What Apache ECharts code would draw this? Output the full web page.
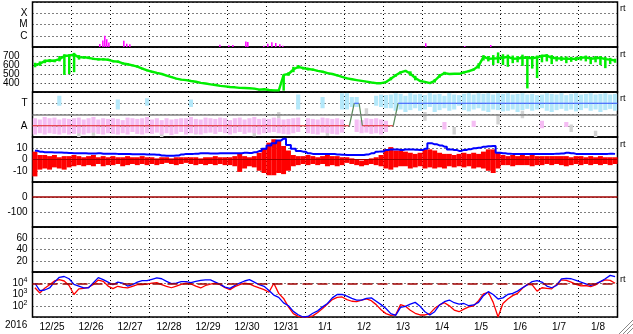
<!DOCTYPE html>
<html><head><meta charset="utf-8">
<script src="https://cdn.jsdelivr.net/npm/echarts@6/dist/echarts.min.js"></script>
<style>html,body{margin:0;padding:0;background:#fff}#c{width:633px;height:334px}</style>
</head><body><div id="c"></div>
<script>
// ---------- DATA (3-hour slots, 120 per series, starting 12/25 00:00) ----------
const dayLabels = ['12/25','12/26','12/27','12/28','12/29','12/30','12/31','1/1','1/2','1/3','1/4','1/5','1/6','1/7','1/8'];
const yearLabel = '2016';

// X-ray flux (log10 W/m2), bursts only
const xrayHours = [41.4,43.3,44.5,45.7,47.0,56.2,58.0,59.9,115.3,120.8,123.3,131.3,132.5,142.3,144.8,147.3,149.7,152.2,154.0,242,266,282];
const xrayLog   = [-6.73,-6.43,-6.0,-6.3,-6.6,-6.45,-6.7,-6.75,-6.8,-6.85,-6.82,-6.5,-6.55,-6.9,-6.7,-6.57,-6.65,-6.75,-6.88,-6.66,-6.93,-6.82];

// Solar wind speed (km/s): main value, and low / high extremes per slot
const speed = [600,615,645,650,648,665,700,705, 715,685,685,680,668,662,662,658, 642,638,618,608,595,582,560,540,
  525,512,500,482,465,448,438,432, 422,414,402,394,385,378,368,362, 355,352,346,344,342,338,326,330,
  322,318,318,490,500,550,580,565, 555,548,535,525,510,500,485,468, 452,442,432,424,415,406,398,398,
  410,448,485,518,535,505,455,422, 412,398,425,480,510,500,502,502, 518,532,550,590,690,670,672,675,
  680,690,670,672,680,680,675,685, 700,705,680,675,672,670,668,670, 680,685,670,675,680,665,660,650];
const speedLo = [575,590,620,630,630,640,490,500, 520,660,670,665,655,650,650,645, 630,625,605,595,585,570,550,530,
  515,505,490,475,455,440,430,425, 415,408,395,388,378,372,362,355, 348,345,340,338,335,330,318,322,
  315,310,310,315,480,520,560,550, 540,535,525,515,500,490,475,460, 445,435,425,418,410,400,392,390,
  400,430,470,505,525,480,430,415, 405,392,405,460,495,490,495,495, 505,520,540,560,650,640,600,620,
  600,580,620,630,590,340,560,455, 630,640,610,640,645,620,635,645, 650,640,610,630,600,565,610,625];
const speedHi = [625,640,660,665,660,700,720,720, 735,710,700,695,680,675,675,670, 655,650,630,620,605,595,570,550,
  535,520,510,490,475,455,445,440, 430,420,410,400,392,385,375,368, 362,358,352,350,348,345,335,338,
  330,325,325,495,520,580,600,580, 570,560,545,535,520,510,495,475, 460,450,440,430,420,412,405,405,
  420,465,500,530,545,530,480,430, 418,405,445,500,525,510,510,510, 530,545,560,620,710,700,710,740,
  720,715,705,700,715,700,700,705, 715,720,710,695,695,695,690,690, 700,705,690,700,700,690,680,670];

// IMF angle (deg) scatter ranges
const phiPinkLo = [20,30,20,30,25,20,30,20, 25,30,20,30,35,25,20,30, 25,20,30,20,40,25,20,30, 25,35,20,30,15,25,40,20,
  30,25,20,30,35,25,40,30, 20,30,40,25,35,30,20,30, 35,40,30,25,20,30,40,null, 30,25,20,35,30,25,20,35,
  null,null,40,30,35,25,30,20, 40,null,null,null,null,null,null,null, null,null,null,null,60,null,null,null,
  null,null,80,null,null,null,null,null, null,null,null,null,null,null,null,null, 70,null,null,null,null,80,null,null,
  null,null,null,null,null,null,null,null];
const phiPinkHi = [150,140,160,150,155,140,150,145, 150,155,140,150,160,140,150,145, 150,145,135,155,150,145,150,160, 140,150,135,150,140,145,150,150,
  160,145,140,155,150,145,155,150, 135,150,155,140,150,160,145,150, 145,155,150,140,145,150,155,null, 150,145,140,155,150,145,150,140,
  null,null,140,135,150,145,150,140, 130,null,null,null,null,null,null,null, null,null,null,null,120,null,null,null,
  null,null,130,null,null,null,null,null, null,null,null,null,null,null,null,null, 130,null,null,null,null,120,null,null,
  null,null,null,null,null,null,null,null];
const phiBlueLo = [null,null,null,null,null,250,null,null, null,null,null,null,null,null,null,null, null,220,null,null,null,null,null,250, null,null,null,null,null,null,null,null,
  240,null,null,null,null,null,null,null, null,null,null,null,null,null,null,null, null,null,null,null,null,null,220,null, null,null,null,230,null,null,null,220,
  220,240,240,null,null,null,250,240, 230,230,210,220,200,215,230,210, 220,240,200,215,230,210,220,250, 215,205,220,230,210,200,220,215,
  205,210,220,200,215,225,210,220, 230,210,200,215,225,210,220,205, 215,230,210,220,200,215,225,210];
const phiBlueHi = [null,null,null,null,null,330,null,null, null,null,null,null,null,null,null,null, null,300,null,null,null,null,null,310, null,null,null,null,null,null,null,null,
  300,null,null,null,null,null,null,null, null,null,null,null,null,null,null,null, null,null,null,null,null,null,340,null, null,null,null,320,null,null,null,350,
  350,320,320,null,null,null,330,340, 335,340,350,345,330,350,340,345, 335,350,340,345,330,350,340,335, 345,350,340,350,345,350,340,350,
  345,350,340,345,350,340,345,335, 340,350,345,340,350,335,345,350, 340,345,350,340,345,350,340,345];
const phiGrayLo = [null,null,null,null,null,null,null,null, null,0,null,null,10,null,null,null, null,null,null,null,null,null,null,null, null,null,0,null,null,null,null,null,
  null,20,null,null,null,null,null,null, null,null,null,null,null,5,null,null, null,null,150,null,null,null,null,null, null,null,null,null,10,null,null,null,
  null,null,null,null,180,null,null,null, null,null,null,null,null,null,null,null, 130,null,null,null,null,null,20,null, null,null,null,null,null,null,null,100,
  null,null,null,null,150,null,null,null, null,null,null,null,null,null,40,null, null,null,null,0,null,null,null,null];
const phiGrayHi = [null,null,null,null,null,null,null,null, null,60,null,null,50,null,null,null, null,null,null,null,null,null,null,null, null,null,40,null,null,null,null,null,
  null,80,null,null,null,null,null,null, null,null,null,null,null,60,null,null, null,null,200,null,null,null,null,null, null,null,null,null,60,null,null,null,
  null,null,null,null,230,null,null,null, null,null,null,null,null,null,null,null, 200,null,null,null,null,null,80,null, null,null,null,null,null,null,null,180,
  null,null,null,null,210,null,null,null, null,null,null,null,null,null,100,null, null,null,null,50,null,null,null,null];

// Sector polarity (deg: 90 = away, 270 = toward)
const sectorHours = [0,195,198,201,203,222,225,360];
const sectorPhi   = [90,90,270,270,90,90,270,270];

// IMF Bt and Bz range (nT)
const bt = [7.8,7,6.4,6.4,6.2,6.2,6,5.8, 5.5,5.5,5.5,5.3,5.3,5.5,5.2,5.2, 5.2,5,5,4.8,4.6,4.6,4.6,4.5, 4.4,4.2,3.6,3.4,3.4,3.5,4.5,5,
  5,5.2,5.5,5.5,5.3,5.3,5.5,5.5, 5.5,5.6,5.6,6,5.8,6.5,7.5,9.5, 12.5,14.5,17,18.5,13,9.5,7.5,7, 5.5,5,5,4.9,4.9,4.8,4.5,4.2,
  4,4,4,4,4.5,5.5,7,7.2, 8.5,9,9,8.4,8.8,9,8.6,8.4, 9.5,14.4,13.5,12.5,11.4,9,8.5,7.6, 8.5,9.2,10,10.5,11.4,11.8,12,6,
  5.5,5.2,5,5,5,5,5,5, 5,5,5,5.2,5.3,6,5.5,5, 5,5,5,5,5,5,5.1,5];
const bzLo = [-15,-9,-8,-9,-7,-8,-9,-7, -6,-5,-6,-5,-6,-4,-6,-5, -5,-4,-6,-5,-4,-5,-4,-5, -4,-5,-4,-3,-4,-5,-4,-3,
  -4,-5,-4,-5,-4,-5,-4,-5, -5,-6,-11,-8,-6,-7,-10,-12, -14,-14,-12,-13,-10,-6,-5,-4, -5,-4,-5,-4,-6,-5,-6,-5,
  -3,-4,-5,-6,-5,-4,-5,-6, -8,-9,-7,-6,-6,-8,-7,-6, -8,-7,-8,-7,-8,-6,-7,-6, -7,-6,-8,-7,-8,-10,-12,-8,
  -5,-5,-6,-5,-5,-5,-6,-5, -5,-4,-5,-4,-5,-6,-5,-4, -5,-4,-5,-4,-5,-4,-5,-4];
const bzHi = [7,4,4,3,4,2,3,3, 4,3,2,3,4,2,3,2, 3,2,2,3,2,2,3,2, 2,1,2,2,1,2,2,2,
  2,2,1,2,2,3,2,2, 2,3,5,3,2,3,6,10, 15,18,17,12,8,4,3,3, 4,3,2,3,4,3,3,2,
  2,1,0,-1,0,1,2,4, 9,11,8,8,7,6,5,6, 9,9,8,6,5,5,4,5, 6,5,6,5,7,9,9,6,
  4,3,4,3,4,3,4,3, 3,3,3,3,3,3,2,3, 3,2,3,2,3,2,2,2];

// Electron flux (log10), two satellites
const eBlue = [4.0,3.34,3.4,3.58,4.1,4.53,4.6,4.4, 3.9,3.75,3.58,3.6,4.05,4.5,4.32,4.1, 3.87,4.1,4.02,3.75,3.87,4.1,4.23,4.23,
  4.35,4.47,4.4,4.17,3.97,4.02,4.15,4.15, 4.05,4.17,4.25,4.3,4.3,4.1,3.9,3.65, 3.55,3.8,4.02,4.2,4.32,4.1,3.87,3.73,
  3.35,2.95,2.75,2.25,2.0,1.5,1.2,1.0, 1.05,1.33,1.55,1.9,2.2,2.7,3.0,3.02, 2.85,2.65,2.5,2.5,2.65,2.7,2.4,2.1,
  1.75,1.3,1.15,1.85,1.95,2.15,2.3,1.95, 1.47,1.18,1.47,2.07,2.36,2.51,2.27,2.15, 2.2,2.0,2.07,2.3,2.9,3.25,3.0,2.6,
  2.7,3.0,3.1,3.3,3.6,3.85,4.15,4.23, 4.1,3.75,3.6,3.8,4.38,4.44,4.4,4.25, 4.1,3.95,3.8,3.95,4.15,4.4,4.7,4.58];
const eRed = [3.6,3.13,3.55,3.87,4.2,4.32,4.2,3.8, 3.0,3.5,3.55,3.64,3.9,4.28,4.17,3.75, 3.52,3.73,3.64,3.58,3.73,3.87,3.87,3.93,
  4.02,4.05,3.87,3.73,3.6,3.75,3.9,4.02, 3.95,3.75,3.58,3.8,3.93,4.02,3.87,3.6, 3.43,3.7,3.87,4.02,3.95,3.75,3.58,3.43,
  3.2,4.0,3.1,2.65,1.9,1.3,1.05,1.0, 1.0,1.1,1.4,1.75,2.15,2.55,2.75,2.78, 2.55,2.4,2.36,2.5,2.62,2.45,2.1,1.65,
  1.3,1.15,1.2,2.1,1.95,1.6,1.33,1.18, 1.18,1.3,1.77,2.07,2.27,1.99,1.62,1.47, 1.7,1.9,2.0,2.45,3.05,3.2,2.3,1.0,
  2.2,2.6,2.9,3.1,3.55,3.9,3.85,3.3, 3.6,3.55,3.5,3.9,4.3,4.25,4.1,3.9, 3.76,3.8,3.7,3.85,4.15,4.3,4.25,4.0];

// ---------- CHART ----------
const SLOT = 3;
const slotHour = i => i * SLOT + SLOT / 2;
const lineData = arr => arr.map((v, i) => [slotHour(i), v]);
const rangeData = (lo, hi) => {
  const out = [];
  for (let i = 0; i < lo.length; i++) if (lo[i] != null && hi[i] != null) out.push([slotHour(i), lo[i], hi[i]]);
  return out;
};

// range bar: width either fixed px or fraction of slot
function rangeRender(slotFrac, fixedPx, minPx) {
  return function (params, api) {
    const x = api.value(0);
    const a = api.coord([x, api.value(1)]);
    const b = api.coord([x, api.value(2)]);
    const w = fixedPx || api.size([SLOT * slotFrac, 0])[0];
    let y0 = Math.min(a[1], b[1]), h = Math.abs(a[1] - b[1]);
    if (h < minPx) { y0 -= (minPx - h) / 2; h = minPx; }
    return { type: 'rect', shape: { x: a[0] - w / 2, y: y0, width: w, height: h }, style: { fill: api.visual('color'), opacity: api.visual('opacity') } };
  };
}

const FONT = 'Liberation Sans, Arial, sans-serif';
const tops = [2, 47, 92, 137, 182, 227, 272];
const grids = tops.map(t => ({
  left: 32.5, right: 15.5, top: t, height: 45, show: true,
  borderColor: '#000', borderWidth: 1.5, backgroundColor: 'transparent'
}));

const xAxes = tops.map((t, i) => ({
  type: 'value', gridIndex: i, min: 0, max: 360, interval: 24,
  axisLine: { show: false }, axisTick: { show: false }, axisLabel: { show: false },
  splitLine: { show: true, lineStyle: { color: '#000', type: [1, 3], width: 1 } }
}));
xAxes.push({
  type: 'category', gridIndex: 6, data: dayLabels, boundaryGap: true, position: 'bottom',
  axisLine: { show: false }, axisTick: { show: false }, splitLine: { show: false },
  axisLabel: { interval: 0, margin: 5, fontSize: 10, fontFamily: FONT, color: '#000' }
});

function yAx(i, min, max, interval, fmt, margin) {
  return {
    type: 'value', gridIndex: i, min, max, interval,
    axisLine: { show: false }, axisTick: { show: false },
    axisLabel: { showMinLabel: false, showMaxLabel: false, margin: margin || 5, fontSize: 10, fontFamily: FONT, color: '#000',
      formatter: fmt, rich: { s: { fontSize: 7, fontFamily: FONT, verticalAlign: 'top', padding: [0, 0, 6, 0] } } },
    splitLine: { show: true, lineStyle: { color: '#000', type: [1, 3], width: 1 } }
  };
}
const xrayClass = { '-6': 'C', '-5': 'M', '-4': 'X' };
const yAxes = [
  yAx(0, -7, -3, 1, v => xrayClass[String(v)] || ''),
  yAx(1, 300, 800, 100, v => String(v), 13),
  yAx(2, 0, 360, 90, v => (v === 90 ? 'A' : v === 270 ? 'T' : '')),
  yAx(3, -20, 20, 10, v => String(v)),
  yAx(4, -200, 100, 100, v => String(v)),
  yAx(5, 0, 80, 20, v => String(v)),
  yAx(6, 1, 5, 1, v => '10{s|' + v + '}')
];

const ml = (val, color, type, width) => ({
  silent: true, symbol: 'none', animation: false, label: { show: false },
  lineStyle: { color, type: type || 'solid', width: width || 1 }, data: [{ yAxis: val }]
});
const rng = (xi, lo, hi, color, frac, px, minPx, opacity, extra) => Object.assign({
  type: 'custom', xAxisIndex: xi, yAxisIndex: xi, clip: true, silent: true,
  renderItem: rangeRender(frac, px, minPx), itemStyle: { color, opacity: opacity == null ? 1 : opacity },
  encode: { x: 0, y: [1, 2] }, data: rangeData(lo, hi)
}, extra || {});

const series = [];
// X-ray
series.push({ type: 'custom', xAxisIndex: 0, yAxisIndex: 0, clip: true, silent: true, renderItem: rangeRender(0, 1.5, 1),
  itemStyle: { color: '#ff00ff' }, encode: { x: 0, y: [1, 2] },
  data: xrayHours.map((h, i) => [h, -7, xrayLog[i]]) });
// Speed: main line + extremes
series.push(rng(1, speedLo, speedHi, '#00ee00', 0, 2.5, 1, 1));
series.push({ type: 'line', xAxisIndex: 1, yAxisIndex: 1, symbol: 'none', silent: true, clip: true,
  lineStyle: { color: '#00ee00', width: 2.4 }, data: lineData(speed) });
// Phi
series.push(rng(2, phiGrayLo, phiGrayHi, '#d2d2d2', 0.7, 0, 1, 0.9));
series.push(rng(2, phiPinkLo, phiPinkHi, '#f5bdf3', 0.85, 0, 1, 0.9, { markLine: ml(180, '#808080', 'solid', 1.5) }));
series.push(rng(2, phiBlueLo, phiBlueHi, '#b4e8fa', 0.85, 0, 1, 0.9));
for (let k = 0; k < sectorHours.length - 1; k++) {
  const a = sectorPhi[k], b = sectorPhi[k + 1];
  const col = a !== b ? '#5a8a5a' : (a > 180 ? '#3050ff' : '#e02020');
  series.push({ type: 'line', xAxisIndex: 2, yAxisIndex: 2, symbol: 'none', silent: true,
    lineStyle: { color: col, width: 1.2 }, data: [[sectorHours[k], a], [sectorHours[k + 1], b]] });
}
// IMF
series.push(rng(3, bzLo, bzHi, '#ff0000', 1.02, 0, 1, 1, { markLine: ml(0, '#a00000', 'solid', 1) }));
series.push({ type: 'line', xAxisIndex: 3, yAxisIndex: 3, symbol: 'none', step: 'middle', clip: true, silent: true,
  lineStyle: { color: '#0000ff', width: 2 }, data: lineData(bt), z: 3 });
// Empty panel with zero line
series.push({ type: 'line', xAxisIndex: 4, yAxisIndex: 4, symbol: 'none', data: [], markLine: ml(0, '#a00000', 'solid', 1.5) });
// Electron flux
series.push({ type: 'line', xAxisIndex: 6, yAxisIndex: 6, symbol: 'none', clip: true, silent: true,
  lineStyle: { color: '#ff0000', width: 1.3 }, data: lineData(eRed), markLine: ml(4, '#a00000', [10, 5], 1.5) });
series.push({ type: 'line', xAxisIndex: 6, yAxisIndex: 6, symbol: 'none', clip: true, silent: true,
  lineStyle: { color: '#0000ff', width: 1.3 }, data: lineData(eBlue) });

const rtY = [4, 50, 94, 140, 275];
const graphics = rtY.map(y => ({ type: 'text', left: 620, top: y, silent: true,
  style: { text: 'rt', font: '9px ' + FONT, fill: '#000' } }));
graphics.push({ type: 'text', left: 5, top: 320, silent: true, style: { text: yearLabel, font: '10px ' + FONT, fill: '#000' } });
[[619, 334, 633, 320], [623, 334, 633, 324], [627, 334, 633, 328]].forEach(p => graphics.push({
  type: 'line', silent: true, shape: { x1: p[0], y1: p[1], x2: p[2], y2: p[3] }, style: { stroke: '#888', lineWidth: 1 } }));

const chart = echarts.init(document.getElementById('c'), null, { renderer: 'canvas' });
chart.setOption({
  animation: false, backgroundColor: '#fff',
  grid: grids, xAxis: xAxes, yAxis: yAxes, series, graphic: graphics
});
</script></body></html>
